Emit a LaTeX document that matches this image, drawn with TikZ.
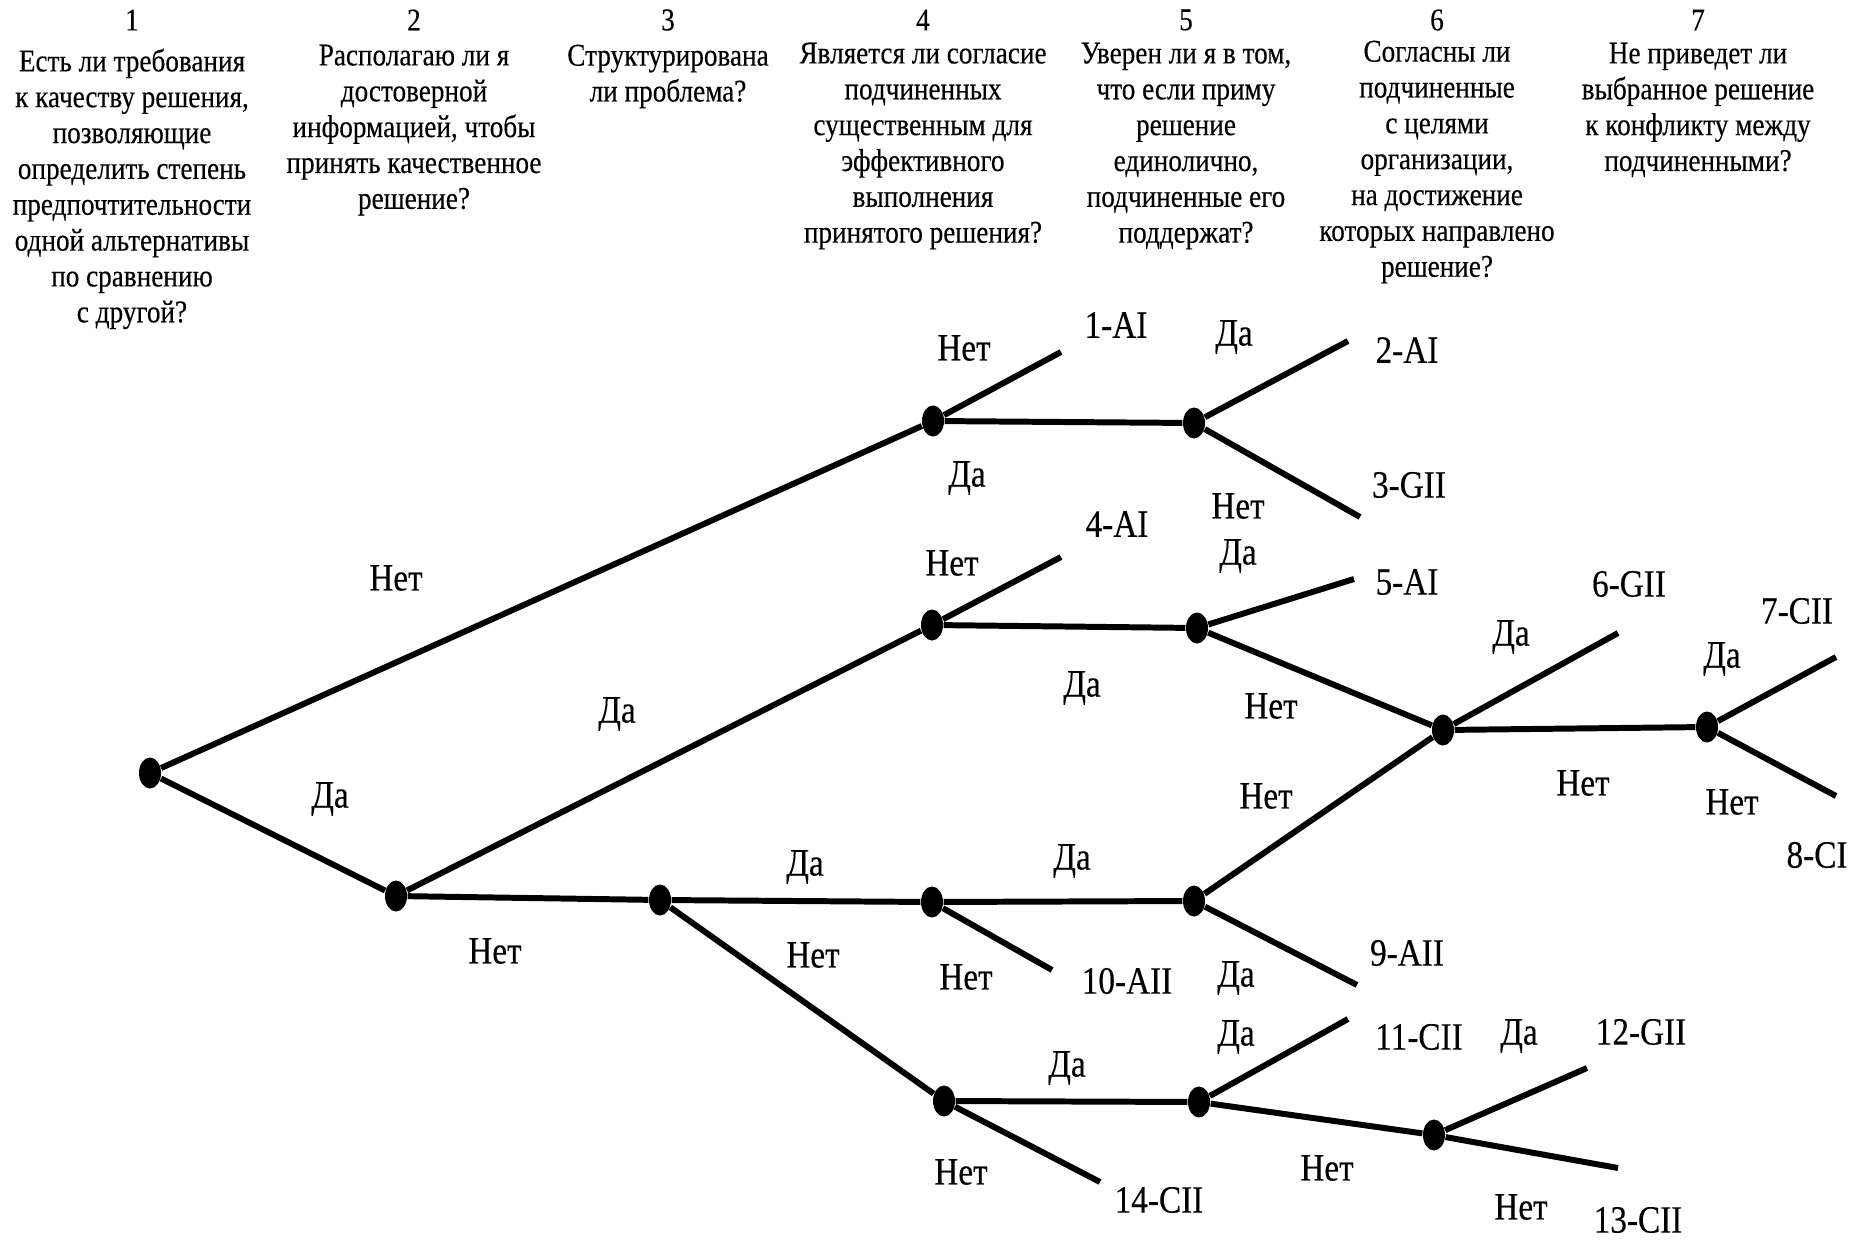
\documentclass[tikz,border=0pt]{standalone}
\usepackage{fontspec}
\setmainfont[FakeStretch=0.86,FakeBold=0.3]{Liberation Serif}
\usetikzlibrary{shapes.geometric}

\begin{document}
\begin{tikzpicture}[x=0.1mm,y=-0.1mm,
  dot/.style={ellipse,fill,inner sep=0pt,minimum width=2.2mm,minimum height=3.1mm},
  num/.style={inner sep=0pt,font=\fontsize{9}{10.2}\selectfont},
  quest/.style={align=center,inner sep=0pt,anchor=north,font=\fontsize{9}{10.2}\selectfont},
  ans/.style={inner sep=0pt,font=\fontsize{11}{13}\selectfont},
  leaf/.style={inner sep=0pt,font=\fontsize{11}{13}\selectfont},
  branch/.style={line width=1.7pt}
]
\useasboundingbox (0,0) rectangle (1854,1240);
% column headings
\node[num] (n1) at (132,20) {1};
\node[num] (n2) at (414,20) {2};
\node[num] (n3) at (668,20) {3};
\node[num] (n4) at (923,20) {4};
\node[num] (n5) at (1186,20) {5};
\node[num] (n6) at (1437,20) {6};
\node[num] (n7) at (1698,20) {7};
\node[quest] (h1) at (132,48) {Есть ли требования\\к качеству решения,\\позволяющие\\определить степень\\предпочтительности\\одной альтернативы\\по сравнению\\с другой?};
\node[quest] (h2) at (414,44) {Располагаю ли я\\достоверной\\информацией, чтобы\\принять качественное\\решение?};
\node[quest] (h3) at (668,44) {Структурирована\\ли проблема?};
\node[quest] (h4) at (923,42) {Является ли согласие\\подчиненных\\существенным для\\эффективного\\выполнения\\принятого решения?};
\node[quest] (h5) at (1186,42) {Уверен ли я в том,\\что если приму\\решение\\единолично,\\подчиненные его\\поддержат?};
\node[quest] (h6) at (1437,40) {Согласны ли\\подчиненные\\с целями\\организации,\\на достижение\\которых направлено\\решение?};
\node[quest] (h7) at (1698,42) {Не приведет ли\\выбранное решение\\к конфликту между\\подчиненными?};

% decision points
\node[dot] (root) at (150,773) {};
\node[dot] (q2) at (396,896) {};
\node[dot] (q3) at (660,900) {};
\node[dot] (q4a) at (933,421) {};
\node[dot] (q4b) at (932,625) {};
\node[dot] (q4c) at (932,902) {};
\node[dot] (q4d) at (944,1101) {};
\node[dot] (q5a) at (1194,423) {};
\node[dot] (q5b) at (1197,628) {};
\node[dot] (q5c) at (1194,901) {};
\node[dot] (q5d) at (1199,1102) {};
\node[dot] (q6a) at (1443,730) {};
\node[dot] (q6b) at (1434,1135) {};
\node[dot] (q7) at (1707,727) {};

% free ends of the tree
\coordinate (e1) at (1061,352);
\coordinate (e2) at (1348,341);
\coordinate (e3) at (1360,517);
\coordinate (e4) at (1061,557);
\coordinate (e5) at (1354,579);
\coordinate (e6) at (1618,633);
\coordinate (e7) at (1836,657);
\coordinate (e8) at (1836,796);
\coordinate (e9) at (1357,985);
\coordinate (e10) at (1052,970);
\coordinate (e11) at (1348,1019);
\coordinate (e12) at (1587,1068);
\coordinate (e13) at (1618,1168);
\coordinate (e14) at (1100,1182);

\draw[branch] (root) -- (q4a);
\draw[branch] (root) -- (q2);
\draw[branch] (q2) -- (q4b);
\draw[branch] (q2) -- (q3);
\draw[branch] (q3) -- (q4c);
\draw[branch] (q3) -- (q4d);
\draw[branch] (q4a) -- (e1);
\draw[branch] (q4a) -- (q5a);
\draw[branch] (q5a) -- (e2);
\draw[branch] (q5a) -- (e3);
\draw[branch] (q4b) -- (e4);
\draw[branch] (q4b) -- (q5b);
\draw[branch] (q5b) -- (e5);
\draw[branch] (q5b) -- (q6a);
\draw[branch] (q4c) -- (q5c);
\draw[branch] (q4c) -- (e10);
\draw[branch] (q5c) -- (q6a);
\draw[branch] (q5c) -- (e9);
\draw[branch] (q6a) -- (e6);
\draw[branch] (q6a) -- (q7);
\draw[branch] (q7) -- (e7);
\draw[branch] (q7) -- (e8);
\draw[branch] (q4d) -- (q5d);
\draw[branch] (q4d) -- (e14);
\draw[branch] (q5d) -- (e11);
\draw[branch] (q5d) -- (q6b);
\draw[branch] (q6b) -- (e12);
\draw[branch] (q6b) -- (e13);

% answers on the branches
\node[ans] (a1) at (396,578) {Нет};
\node[ans] (a2) at (330,799) {Да};
\node[ans] (a3) at (964,348) {Нет};
\node[ans] (a4) at (967,478) {Да};
\node[ans] (a5) at (1234,337) {Да};
\node[ans] (a6) at (1238,506) {Нет};
\node[ans] (a7) at (952,563) {Нет};
\node[ans] (a8) at (1082,688) {Да};
\node[ans] (a9) at (1238,556) {Да};
\node[ans] (a10) at (1271,706) {Нет};
\node[ans] (a11) at (617,714) {Да};
\node[ans] (a12) at (495,951) {Нет};
\node[ans] (a13) at (805,867) {Да};
\node[ans] (a14) at (813,955) {Нет};
\node[ans] (a15) at (1072,861) {Да};
\node[ans] (a16) at (966,977) {Нет};
\node[ans] (a17) at (1266,796) {Нет};
\node[ans] (a18) at (1236,978) {Да};
\node[ans] (a19) at (1511,637) {Да};
\node[ans] (a20) at (1583,783) {Нет};
\node[ans] (a21) at (1722,659) {Да};
\node[ans] (a22) at (1732,802) {Нет};
\node[ans] (a23) at (1067,1068) {Да};
\node[ans] (a24) at (961,1172) {Нет};
\node[ans] (a25) at (1236,1037) {Да};
\node[ans] (a26) at (1327,1168) {Нет};
\node[ans] (a27) at (1519,1036) {Да};
\node[ans] (a28) at (1521,1207) {Нет};

% decision styles
\node[leaf] (l1) at (1116,325) {1-AI};
\node[leaf] (l2) at (1407,350) {2-AI};
\node[leaf] (l3) at (1409,485) {3-GII};
\node[leaf] (l4) at (1117,524) {4-AI};
\node[leaf] (l5) at (1407,582) {5-AI};
\node[leaf] (l6) at (1629,584) {6-GII};
\node[leaf] (l7) at (1797,611) {7-CII};
\node[leaf] (l8) at (1817,855) {8-CI};
\node[leaf] (l9) at (1407,953) {9-AII};
\node[leaf] (l10) at (1127,981) {10-AII};
\node[leaf] (l11) at (1419,1037) {11-CII};
\node[leaf] (l12) at (1641,1032) {12-GII};
\node[leaf] (l13) at (1638,1220) {13-CII};
\node[leaf] (l14) at (1159,1200) {14-CII};
\end{tikzpicture}
\end{document}
